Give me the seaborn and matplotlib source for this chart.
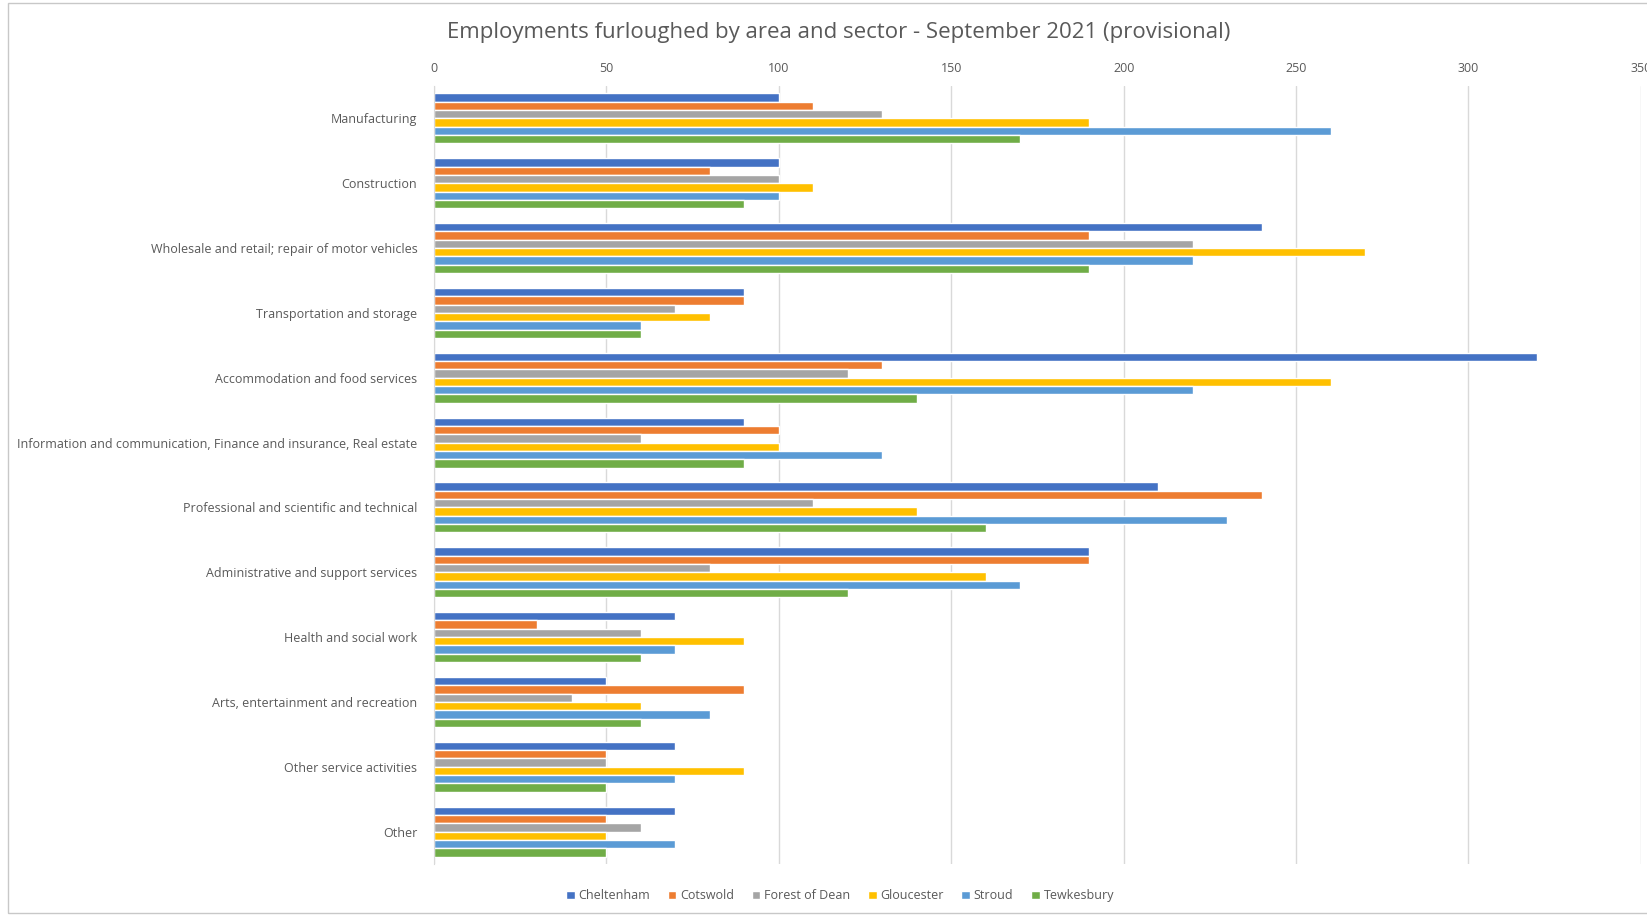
import pandas as pd
import matplotlib.pyplot as plt
import seaborn as sns
from matplotlib.patches import Rectangle

# Data
sectors = [
    'Manufacturing',
    'Construction',
    'Wholesale and retail; repair of motor vehicles',
    'Transportation and storage',
    'Accommodation and food services',
    'Information and communication, Finance and insurance, Real estate',
    'Professional and scientific and technical',
    'Administrative and support services',
    'Health and social work',
    'Arts, entertainment and recreation',
    'Other service activities',
    'Other',
]
areas = ['Cheltenham', 'Cotswold', 'Forest of Dean', 'Gloucester', 'Stroud', 'Tewkesbury']

cheltenham = [100, 100, 240, 90, 320, 90, 210, 190, 70, 50, 70, 70]
cotswold = [110, 80, 190, 90, 130, 100, 240, 190, 30, 90, 50, 50]
forest_of_dean = [130, 100, 220, 70, 120, 60, 110, 80, 60, 40, 50, 60]
gloucester = [190, 110, 270, 80, 260, 100, 140, 160, 90, 60, 90, 50]
stroud = [260, 100, 220, 60, 220, 130, 230, 170, 70, 80, 70, 70]
tewkesbury = [170, 90, 190, 60, 140, 90, 160, 120, 60, 60, 50, 50]

colors = ['#4472C4', '#ED7D31', '#A5A5A5', '#FFC000', '#5B9BD5', '#70AD47']

series = [cheltenham, cotswold, forest_of_dean, gloucester, stroud, tewkesbury]
rows = []
for area, vals in zip(areas, series):
    for sec, v in zip(sectors, vals):
        rows.append({'Sector': sec, 'Area': area, 'Employments': v})
df = pd.DataFrame(rows)

sns.set_style('white')
plt.rcParams['font.family'] = ['Open Sans', 'DejaVu Sans']

fig = plt.figure(figsize=(16.47, 9.16), dpi=100)
ax = fig.add_axes([0.2635, 0.0568, 0.9963 - 0.2635, 0.9061 - 0.0568])

sns.barplot(data=df, y='Sector', x='Employments', hue='Area', order=sectors,
            hue_order=areas, palette=colors, orient='h', width=0.77,
            saturation=1, errorbar=None, ax=ax)

ax.set_xlim(0, 350)
ax.set_xticks(range(0, 351, 50))
ax.xaxis.tick_top()
ax.set_xlabel('')
ax.set_ylabel('')
ax.grid(axis='x', color='#D9D9D9', linewidth=1)
ax.set_axisbelow(True)
for s in ['top', 'right', 'bottom']:
    ax.spines[s].set_visible(False)
ax.spines['left'].set_color('#D9D9D9')
ax.tick_params(axis='both', length=0, labelcolor='#595959', labelsize=9)
ax.tick_params(axis='y', pad=12)
ax.tick_params(axis='x', pad=8)

fig.suptitle('Employments furloughed by area and sector - September 2021 (provisional)',
             x=0.509, y=0.964, va='center', fontsize=16, color='#595959')

ax.legend(loc='center', bbox_to_anchor=(0.51, 0.022), bbox_transform=fig.transFigure,
          ncol=6, frameon=False, fontsize=9, handlelength=0.7, handleheight=0.7,
          handletextpad=0.3, columnspacing=1.4, labelcolor='#595959')

fig.patches.append(Rectangle((0.005, 0.003), 1.2, 0.994, transform=fig.transFigure,
                             fill=False, edgecolor='#C8C8C8', linewidth=1))

fig.savefig('out.png', dpi=100)
